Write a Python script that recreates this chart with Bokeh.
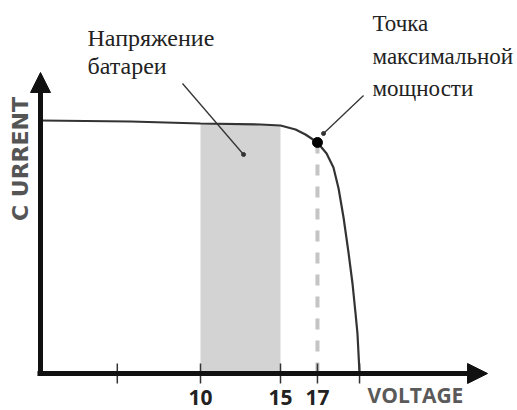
from bokeh.plotting import figure
from bokeh.models import Range1d, Arrow, NormalHead
from bokeh.core.properties import value
from bokeh.embed import file_html
from bokeh.resources import INLINE

# ---- data ----
voltage = [0, 5.63, 10.0, 13.75, 15.0, 15.94, 16.56, 17.31, 17.88, 18.31,
           18.63, 18.94, 19.25, 19.5, 19.69, 19.81, 19.94]
current = [10.12, 10.08, 10.0, 9.96, 9.92, 9.76, 9.56, 9.24, 8.8, 8.24,
           7.4, 6.24, 4.84, 3.6, 2.4, 1.6, 0]
battery_range = [10, 15]
mpp_v = 17.31
mpp_i = 9.24
tick_values = [4.8, 10, 15, 17.31, 19.94]
tick_labels = ["", "10", "15", "17", ""]
x_title = "VOLTAGE"
y_title = "C URRENT"
battery_label = ["Напряжение", "батареи"]
mpp_label = ["Точка", "максимальной", "мощности"]

AX = "#111111"

p = figure(width=517, height=410, output_backend="svg", toolbar_location=None,
           x_axis_location=None, y_axis_location=None,
           x_range=Range1d(-2.5, 29.8125), y_range=Range1d(-1.48, 14.92),
           min_border=0, outline_line_color=None, background_fill_color="white")
p.grid.grid_line_color = None

# battery band under the curve
bx = [v for v in voltage if battery_range[0] <= v <= battery_range[1]]
by = [c for v, c in zip(voltage, current) if battery_range[0] <= v <= battery_range[1]]
p.varea(x=bx, y1=[0] * len(bx), y2=by, fill_color="#d3d3d3")

# dashed line at MPP
p.segment(x0=[mpp_v], y0=[0], x1=[mpp_v], y1=[mpp_i], line_color="#c4c4c4",
          line_width=4, line_dash="11 11")

# I-V curve
p.line(voltage, current, line_color="#333333", line_width=2.2)

# ticks
p.segment(x0=tick_values, y0=[0.4] * len(tick_values), x1=tick_values,
          y1=[-0.4] * len(tick_values), line_color="#333333", line_width=1.5)

# axes with arrows
p.add_layout(Arrow(end=NormalHead(size=20, fill_color=AX, line_color=AX, line_width=1),
                   x_start=-0.19, y_start=0, x_end=27.94, y_end=0,
                   line_width=5, line_color=AX))
p.add_layout(Arrow(end=NormalHead(size=20, fill_color=AX, line_color=AX, line_width=1),
                   x_start=0, y_start=-0.1, x_end=0, y_end=12.04,
                   line_width=5, line_color=AX))

# MPP point
p.scatter([mpp_v], [mpp_i], size=10, fill_color="black", line_color="black")

# tick labels
p.text(x=tick_values, y=[-0.66] * len(tick_values), text=tick_labels,
       text_font=value("Open Sans"), text_font_style="bold", text_font_size="21px",
       text_color="#222222", text_align="center", text_baseline="top")

# axis titles
p.text(x=[20.44], y=[-0.3], text=[x_title], text_font=value("Open Sans"),
       text_font_style="bold", text_font_size="21px", text_color="#5a5a5a",
       text_align="left", text_baseline="top")
p.text(x=[-1.22], y=[8.58], text=[y_title], text_font=value("DejaVu Sans"),
       text_font_style="bold", text_font_size="22px", text_color="#555555",
       text_align="center", text_baseline="middle", angle=1.5708)

# annotations
p.segment(x0=[8.875], y0=[11.6], x1=[12.69], y1=[8.76], line_color="#333333", line_width=1.3)
p.scatter([12.69], [8.76], size=4, fill_color="#333333", line_color="#333333")
p.segment(x0=[20.19], y0=[11.12], x1=[17.69], y1=[9.6], line_color="#333333", line_width=1.3)
p.scatter([17.69], [9.6], size=4, fill_color="#333333", line_color="#333333")

p.text(x=[2.94] * 2, y=[13.42, 12.3], text=battery_label,
       text_font=value("Liberation Serif"), text_font_size="24px",
       text_color="#222222", text_baseline="alphabetic")
p.text(x=[20.75] * 3, y=[14.02, 12.7, 11.42], text=mpp_label,
       text_font=value("Liberation Serif"), text_font_size="23px",
       text_color="#222222", text_baseline="alphabetic")

open("out.html", "w").write(file_html(p, INLINE))
